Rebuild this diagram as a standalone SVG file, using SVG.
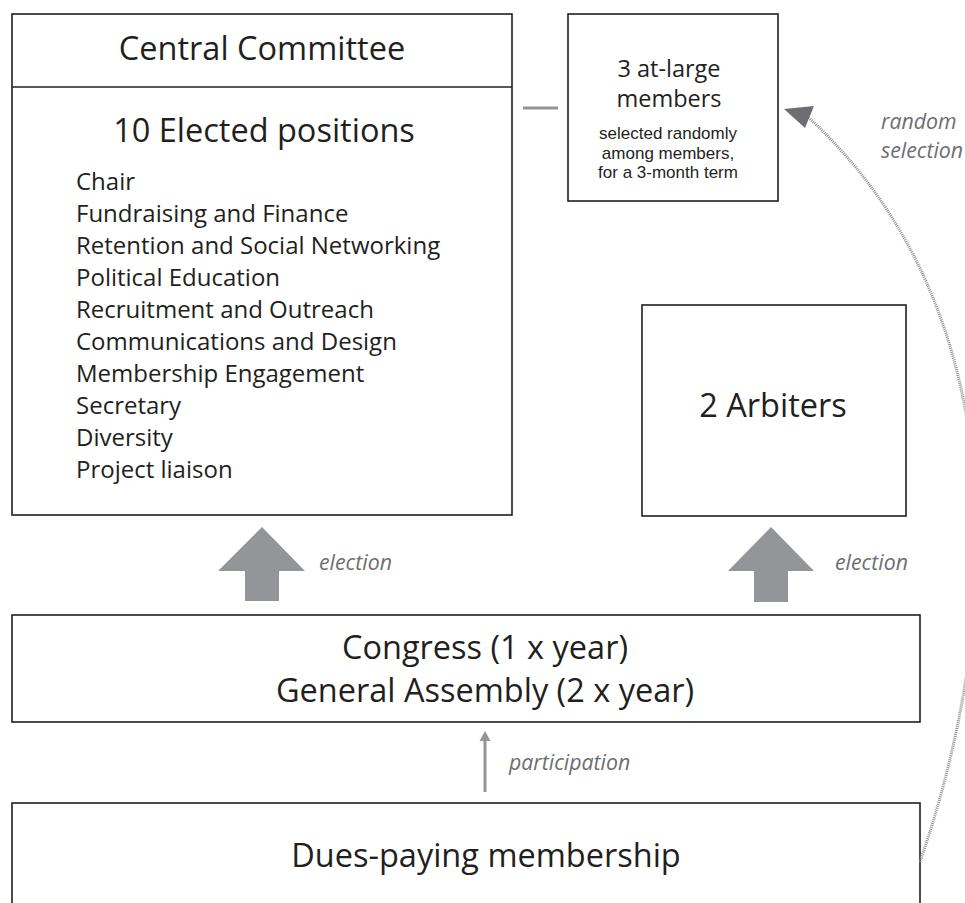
<svg xmlns="http://www.w3.org/2000/svg" width="965" height="903" viewBox="0 0 965 903">
<defs>
<style>
.box{fill:#fff;stroke:#231f20;stroke-width:1.6}
.t{font-family:"Open Sans","Noto Sans","Liberation Sans",sans-serif;fill:#231f20}
.big{font-size:32.5px;text-anchor:middle}
.list{font-size:24px}
.mid{font-size:23.5px;text-anchor:middle}
.small{font-family:"Liberation Sans",Arial,sans-serif;font-size:17px;text-anchor:middle;fill:#231f20}
.lbl{font-family:"Open Sans","Noto Sans","Liberation Sans",sans-serif;font-style:italic;font-size:21.3px;fill:#6d6e71}
.garrow{fill:#939598}
</style>
</defs>
<rect width="965" height="903" fill="#fff"/>
<g id="central-committee">
<rect class="box" x="12" y="14" width="500" height="501"/>
<line x1="12" y1="87" x2="512" y2="87" stroke="#231f20" stroke-width="1.6"/>
<text class="t big" x="262" y="60">Central Committee</text>
<text class="t big" x="264" y="142">10 Elected positions</text>
<g class="t list">
<text x="76" y="190">Chair</text>
<text x="76" y="222">Fundraising and Finance</text>
<text x="76" y="254">Retention and Social Networking</text>
<text x="76" y="286">Political Education</text>
<text x="76" y="318">Recruitment and Outreach</text>
<text x="76" y="350">Communications and Design</text>
<text x="76" y="382">Membership Engagement</text>
<text x="76" y="414">Secretary</text>
<text x="76" y="446">Diversity</text>
<text x="76" y="478">Project liaison</text>
</g>
</g>
<g id="at-large">
<rect class="box" x="568" y="14" width="210" height="187"/>
<text class="t mid" x="669" y="77">3 at-large<tspan x="669" y="107">members</tspan></text>
<text class="small" x="668" y="139">selected randomly</text>
<text class="small" x="668" y="158.5">among members,</text>
<text class="small" x="668" y="178">for a 3-month term</text>
</g>
<g id="arbiters">
<rect class="box" x="642" y="305" width="264" height="211"/>
<text class="t big" x="773" y="417">2 Arbiters</text>
</g>
<g id="congress">
<rect class="box" x="12" y="615" width="908" height="107"/>
<text class="t big" x="485" y="659">Congress (1 x year)</text>
<text class="t big" x="485" y="702">General Assembly (2 x year)</text>
</g>
<g id="membership">
<rect class="box" x="12" y="803" width="908" height="140"/>
<text class="t big" x="486" y="867">Dues-paying membership</text>
</g>
<g id="connectors">
<line x1="523" y1="108" x2="558" y2="108" stroke="#939598" stroke-width="3"/>
<polygon class="garrow" points="262,527 305,571 279,571 279,601 245,601 245,571 218,571"/>
<text class="lbl" x="319" y="570">election</text>
<polygon class="garrow" points="771,527 814,571 788,571 788,602 754,602 754,571 728,571"/>
<text class="lbl" x="835" y="570">election</text>
<line x1="485" y1="792" x2="485" y2="738" stroke="#939598" stroke-width="3"/>
<polygon class="garrow" points="485,731 490.5,741 479.5,741"/>
<text class="lbl" x="509" y="770">participation</text>
<path d="M 920 862 C 1010 600, 1008 300, 808 117" fill="none" stroke="#8f9093" stroke-width="3" stroke-dasharray="1 1"/>
<polygon fill="#6d6e71" points="784,109 814,106 805,128"/>
<text class="lbl" x="881" y="129">random</text>
<text class="lbl" x="881" y="158">selection</text>
</g>
</svg>
